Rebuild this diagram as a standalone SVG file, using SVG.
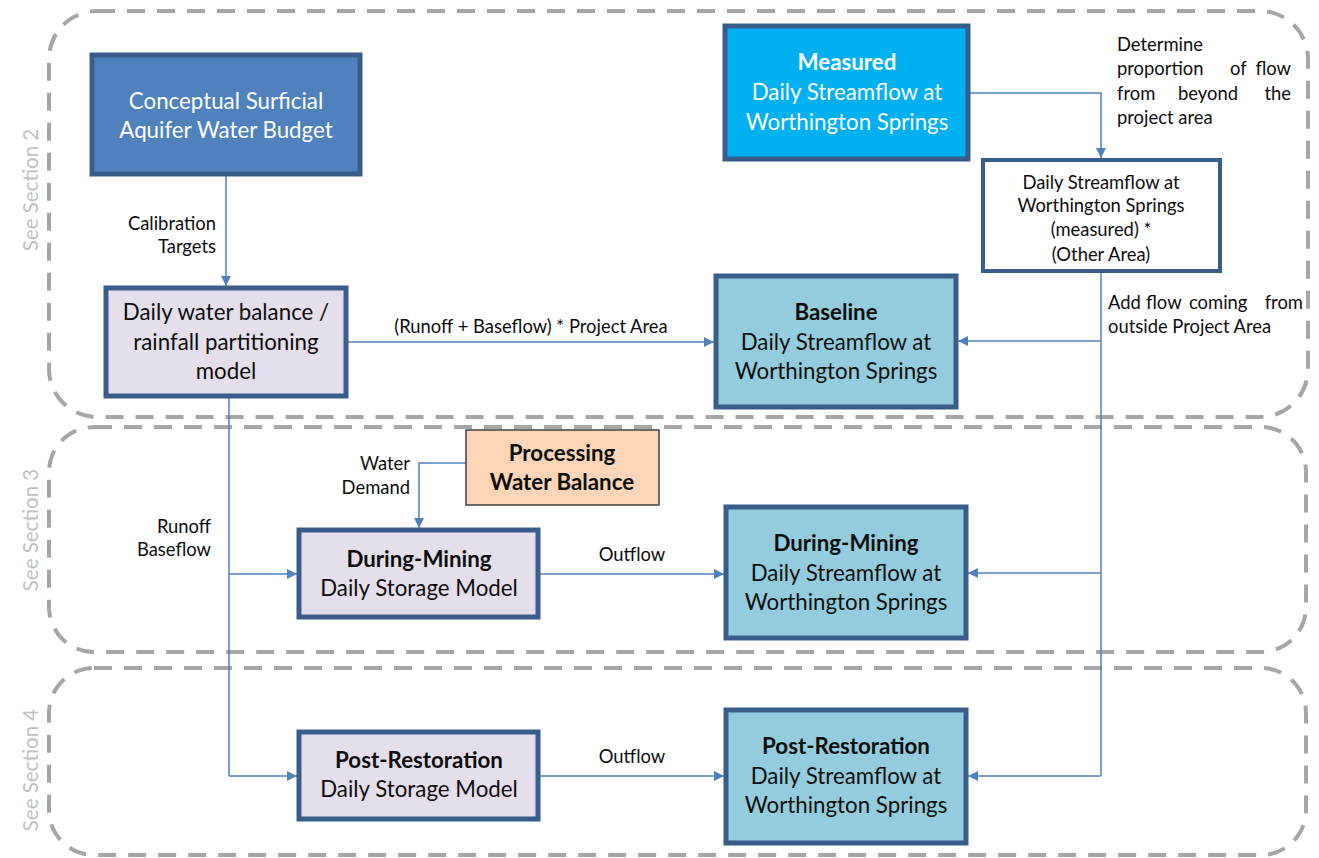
<svg xmlns="http://www.w3.org/2000/svg" width="1319" height="858" viewBox="0 0 1319 858">
<style>
.sec{fill:none;stroke:#a6a6a6;stroke-width:4;stroke-dasharray:18 12}
.seclbl{font-family:Lato,"Liberation Sans",sans-serif;font-size:20.5px;fill:#bfbfbf}
.box{stroke:#385d8a;stroke-width:5}
.t{font-family:Lato,"Liberation Sans",sans-serif;font-size:22.3px;fill:#0d0d0d;text-anchor:middle}
.w{fill:#fff}
.b{font-weight:bold}
.s{font-family:Lato,"Liberation Sans",sans-serif;font-size:18.4px;fill:#0d0d0d}
.m{text-anchor:middle}
.e{text-anchor:end}
.c{fill:none;stroke:#4f81bd;stroke-width:1.5}
</style>
<defs>
<marker id="ah" viewBox="0 0 10 10" refX="10" refY="5" markerWidth="10" markerHeight="10" markerUnits="userSpaceOnUse" orient="auto">
<path d="M0,0 L10,5 L0,10 z" fill="#4f81bd"/>
</marker>
</defs>
<rect width="1319" height="858" fill="#fff"/>
<g id="sections">
<rect class="sec" x="49" y="11" width="1259" height="406" rx="48"/>
<rect class="sec" x="49" y="427" width="1257" height="225" rx="45"/>
<rect class="sec" x="49" y="668" width="1257" height="187" rx="45"/>
<text class="seclbl" transform="translate(38,190) rotate(-90)" text-anchor="middle">See Section 2</text>
<text class="seclbl" transform="translate(38,530) rotate(-90)" text-anchor="middle">See Section 3</text>
<text class="seclbl" transform="translate(38,770) rotate(-90)" text-anchor="middle">See Section 4</text>
</g>
<g id="connectors">
<path class="c" d="M226,176 V286" marker-end="url(#ah)"/>
<path class="c" d="M348,342 H714" marker-end="url(#ah)"/>
<path class="c" d="M229,398 V776"/>
<path class="c" d="M229,574 H297" marker-end="url(#ah)"/>
<path class="c" d="M229,776 H297" marker-end="url(#ah)"/>
<path class="c" d="M970,93 H1101 V158" marker-end="url(#ah)"/>
<path class="c" d="M1101,273 V776"/>
<path class="c" d="M1101,341 H958" marker-end="url(#ah)"/>
<path class="c" d="M1101,573 H968" marker-end="url(#ah)"/>
<path class="c" d="M1101,776 H968" marker-end="url(#ah)"/>
<path class="c" d="M466,463 H419 V528" marker-end="url(#ah)"/>
<path class="c" d="M540,574 H724" marker-end="url(#ah)"/>
<path class="c" d="M540,776 H724" marker-end="url(#ah)"/>
<text class="s e" x="216" y="230">Calibration</text>
<text class="s e" x="216" y="253">Targets</text>
<text class="s m" x="531" y="333">(Runoff + Baseflow) * Project Area</text>
<text class="s e" x="211" y="533">Runoff</text>
<text class="s e" x="211" y="556">Baseflow</text>
<text class="s e" x="410" y="470">Water</text>
<text class="s e" x="410" y="494">Demand</text>
<text class="s m" x="632" y="561">Outflow</text>
<text class="s m" x="632" y="763">Outflow</text>
<text class="s" x="1117" y="51">Determine</text>
<text class="s" x="1117" y="75">proportion</text>
<text class="s" x="1230" y="75">of</text>
<text class="s e" x="1291" y="75">flow</text>
<text class="s" x="1117" y="100">from</text>
<text class="s" x="1178" y="100">beyond</text>
<text class="s e" x="1291" y="100">the</text>
<text class="s" x="1117" y="124">project area</text>
<text class="s" x="1108" y="309">Add</text>
<text class="s" x="1146" y="309">flow</text>
<text class="s" x="1189" y="309">coming</text>
<text class="s e" x="1303" y="309">from</text>
<text class="s" x="1108" y="333">outside Project Area</text>
</g>
<g id="n-conceptual">
<rect class="box" x="92" y="55" width="268" height="119" fill="#4f81bd"/>
<text class="t w" x="226" y="109">Conceptual Surficial</text>
<text class="t w" x="226" y="138">Aquifer Water Budget</text>
</g>
<g id="n-balance">
<rect class="box" x="106" y="288" width="240" height="108" fill="#e5dfec"/>
<text class="t" x="226" y="320">Daily water balance /</text>
<text class="t" x="226" y="350">rainfall partitioning</text>
<text class="t" x="226" y="379">model</text>
</g>
<g id="n-measured">
<rect class="box" x="725" y="26" width="243" height="133" fill="#00b0f0"/>
<text class="t w b" x="847" y="70">Measured</text>
<text class="t w" x="847" y="100">Daily Streamflow at</text>
<text class="t w" x="847" y="130">Worthington Springs</text>
</g>
<g id="n-other">
<rect x="983" y="160" width="237" height="111" fill="#fff" stroke="#385d8a" stroke-width="4"/>
<text class="s m" x="1101" y="189">Daily Streamflow at</text>
<text class="s m" x="1101" y="212">Worthington Springs</text>
<text class="s m" x="1101" y="236">(measured) *</text>
<text class="s m" x="1101" y="261">(Other Area)</text>
</g>
<g id="n-baseline">
<rect class="box" x="716" y="276" width="240" height="131" fill="#93cddd"/>
<text class="t b" x="836" y="320">Baseline</text>
<text class="t" x="836" y="350">Daily Streamflow at</text>
<text class="t" x="836" y="379">Worthington Springs</text>
</g>
<g id="n-processing">
<rect x="466" y="430" width="193" height="75" fill="#fbd5b5" stroke="#404040" stroke-width="1.5"/>
<text class="t b" x="562" y="461">Processing</text>
<text class="t b" x="562" y="490">Water Balance</text>
</g>
<g id="n-dm-storage">
<rect class="box" x="299" y="530" width="239" height="87" fill="#e5dfec"/>
<text class="t b" x="419" y="567">During-Mining</text>
<text class="t" x="419" y="596">Daily Storage Model</text>
</g>
<g id="n-dm-stream">
<rect class="box" x="726" y="507" width="240" height="131" fill="#93cddd"/>
<text class="t b" x="846" y="551">During-Mining</text>
<text class="t" x="846" y="581">Daily Streamflow at</text>
<text class="t" x="846" y="610">Worthington Springs</text>
</g>
<g id="n-pr-storage">
<rect class="box" x="299" y="732" width="239" height="87" fill="#e5dfec"/>
<text class="t b" x="419" y="768">Post-Restoration</text>
<text class="t" x="419" y="797">Daily Storage Model</text>
</g>
<g id="n-pr-stream">
<rect class="box" x="726" y="710" width="240" height="133" fill="#93cddd"/>
<text class="t b" x="846" y="754">Post-Restoration</text>
<text class="t" x="846" y="784">Daily Streamflow at</text>
<text class="t" x="846" y="813">Worthington Springs</text>
</g>
</svg>
